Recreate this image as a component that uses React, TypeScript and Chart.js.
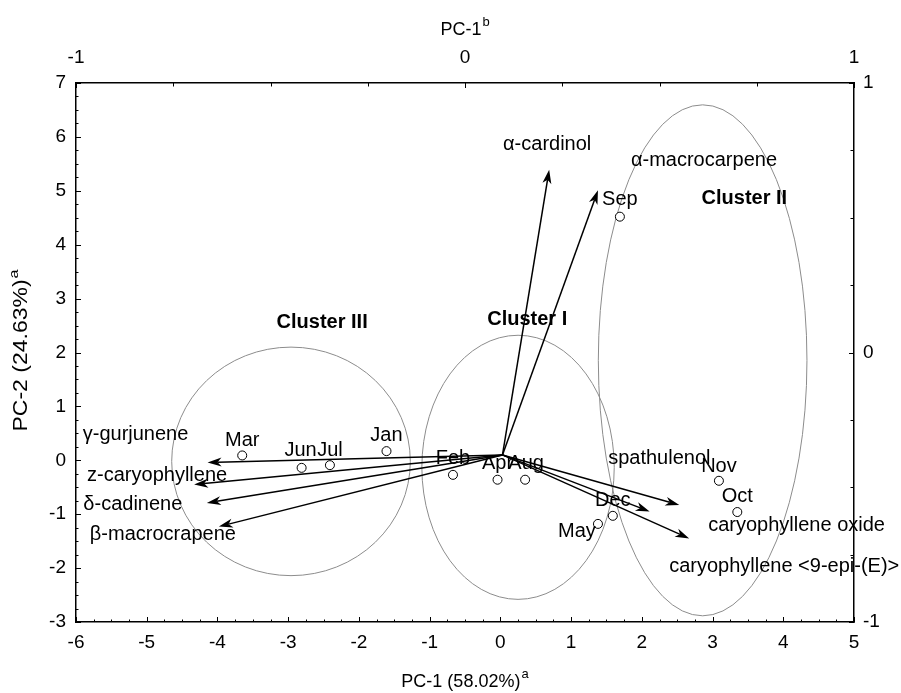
import React, { useEffect, useRef } from 'react';
import { Chart, registerables } from 'chart.js';

Chart.register(...registerables);

// ---------- data ----------
const months = ['Jan', 'Feb', 'Mar', 'Apr', 'May', 'Jun', 'Jul', 'Aug', 'Sep', 'Oct', 'Nov', 'Dec'];
const monthPC1 = [-1.61, -0.67, -3.65, -0.04, 1.38, -2.81, -2.41, 0.35, 1.69, 3.35, 3.09, 1.59];
const monthPC2 = [0.17, -0.27, 0.09, -0.36, -1.18, -0.14, -0.09, -0.36, 4.52, -0.96, -0.38, -1.03];

const compounds = [
  'γ-gurjunene',
  'z-caryophyllene',
  'δ-cadinene',
  'β-macrocrapene',
  'spathulenol',
  'caryophyllene oxide',
  'caryophyllene <9-epi-(E)>',
  'α-cardinol',
  'α-macrocarpene',
];
const arrowOriginPC1 = 0.03;
const arrowOriginPC2 = 0.1;
const compoundTipPC1 = [-4.14, -4.33, -4.15, -3.98, 2.53, 2.11, 2.67, 0.69, 1.38];
const compoundTipPC2 = [-0.04, -0.45, -0.79, -1.23, -0.83, -0.95, -1.45, 5.39, 5.01];

const clusterNames = ['Cluster I', 'Cluster II', 'Cluster III'];
const clusterCenterPC1 = [0.25, 2.86, -2.96];
const clusterCenterPC2 = [-0.13, 1.855, -0.02];
const clusterRadiusPC1 = [1.36, 1.475, 1.687];
const clusterRadiusPC2 = [2.45, 4.74, 2.12];
const clusterLabelPC1 = [0.38, 3.45, -2.52];
const clusterLabelPC2 = [2.62, 4.85, 2.55];

const bottomTicks = { min: -6, max: 5 };
const leftTicks = { min: -3, max: 7 };
const topTicks = { min: -1, max: 1 };
const rightTicks = { min: -1, max: 1 };

const bottomTitle = 'PC-1 (58.02%)';
const bottomTitleSup = 'a';
const leftTitle = 'PC-2 (24.63%)';
const leftTitleSup = 'a';
const topTitle = 'PC-1';
const topTitleSup = 'b';

// ---------- layout (pixel offsets of text labels) ----------
const monthLabelOffset: [number, number][] = [
  [0, -16], [0, -16], [0, -15], [0, -16], [-21, 8], [-1, -17],
  [0, -15], [1, -16], [0, -17], [0, -16], [0, -14], [0, -15],
];
const compoundLabelOffset: [number, number][] = [
  [-72, -28], [-37, -9], [-74, 2], [-56, 8], [-20, -47],
  [147, 14], [95, 28], [-2, -25], [106, -30],
];

const FONT = '"Liberation Sans", Arial, Helvetica, sans-serif';

function drawSupTitle(
  ctx: CanvasRenderingContext2D,
  main: string,
  sup: string,
  x: number,
  y: number,
  size: number,
  squeeze: number,
) {
  ctx.save();
  ctx.translate(x, y);
  ctx.scale(squeeze, 1);
  ctx.font = `${size}px ${FONT}`;
  const w1 = ctx.measureText(main).width;
  ctx.font = `${Math.round(size * 0.7)}px ${FONT}`;
  const w2 = ctx.measureText(sup).width;
  const start = -(w1 + w2 + 1) / 2;
  ctx.textAlign = 'left';
  ctx.textBaseline = 'middle';
  ctx.font = `${size}px ${FONT}`;
  ctx.fillText(main, start, 0);
  ctx.font = `${Math.round(size * 0.7)}px ${FONT}`;
  ctx.fillText(sup, start + w1 + 1, -size * 0.4);
  ctx.restore();
}

const overlayPlugin = {
  id: 'overlay',
  beforeDatasetsDraw(chart: any) {
    const { ctx, scales } = chart;
    const x = scales.x;
    const y = scales.y;
    ctx.save();
    // cluster ellipses
    ctx.strokeStyle = '#8c8c8c';
    ctx.lineWidth = 1;
    for (let i = 0; i < clusterNames.length; i++) {
      const cx = x.getPixelForValue(clusterCenterPC1[i]);
      const cy = y.getPixelForValue(clusterCenterPC2[i]);
      const rx = Math.abs(x.getPixelForValue(clusterCenterPC1[i] + clusterRadiusPC1[i]) - cx);
      const ry = Math.abs(y.getPixelForValue(clusterCenterPC2[i] + clusterRadiusPC2[i]) - cy);
      ctx.beginPath();
      ctx.ellipse(cx, cy, rx, ry, 0, 0, Math.PI * 2);
      ctx.stroke();
    }
    // arrows
    const ox = x.getPixelForValue(arrowOriginPC1);
    const oy = y.getPixelForValue(arrowOriginPC2);
    ctx.strokeStyle = '#000';
    ctx.fillStyle = '#000';
    ctx.lineWidth = 1.5;
    for (let i = 0; i < compounds.length; i++) {
      const tx = x.getPixelForValue(compoundTipPC1[i]);
      const ty = y.getPixelForValue(compoundTipPC2[i]);
      const dx = tx - ox;
      const dy = ty - oy;
      const len = Math.hypot(dx, dy);
      const ux = dx / len;
      const uy = dy / len;
      const nx = -uy;
      const ny = ux;
      const L = 14;
      const W = 4.5;
      const notch = 10;
      ctx.beginPath();
      ctx.moveTo(ox, oy);
      ctx.lineTo(tx - ux * notch, ty - uy * notch);
      ctx.stroke();
      ctx.beginPath();
      ctx.moveTo(tx, ty);
      ctx.lineTo(tx - ux * L + nx * W, ty - uy * L + ny * W);
      ctx.lineTo(tx - ux * notch, ty - uy * notch);
      ctx.lineTo(tx - ux * L - nx * W, ty - uy * L - ny * W);
      ctx.closePath();
      ctx.fill();
    }
    ctx.restore();
  },
  afterDraw(chart: any) {
    const { ctx, scales, chartArea } = chart;
    const x = scales.x;
    const y = scales.y;
    const x2 = scales.x2;
    const y2 = scales.y2;
    const { left, right, top, bottom } = chartArea;
    ctx.save();
    ctx.strokeStyle = '#000';
    ctx.lineWidth = 1;
    // inward tick marks
    ctx.beginPath();
    for (let v = bottomTicks.min; v <= bottomTicks.max + 1e-9; v += 0.25) {
      const p = Math.round(x.getPixelForValue(v)) + 0.5;
      const l = Math.abs(v - Math.round(v)) < 1e-6 ? 5 : 2.5;
      ctx.moveTo(p, bottom);
      ctx.lineTo(p, bottom - l);
    }
    for (let v = leftTicks.min; v <= leftTicks.max + 1e-9; v += 0.25) {
      const p = Math.round(y.getPixelForValue(v)) + 0.5;
      const l = Math.abs(v - Math.round(v)) < 1e-6 ? 5 : 2.5;
      ctx.moveTo(left, p);
      ctx.lineTo(left + l, p);
    }
    for (let v = topTicks.min; v <= topTicks.max + 1e-9; v += 0.25) {
      const p = Math.round(x2.getPixelForValue(v)) + 0.5;
      const l = Math.abs(v - Math.round(v)) < 1e-6 ? 5 : 3.5;
      ctx.moveTo(p, top);
      ctx.lineTo(p, top + l);
    }
    for (let v = rightTicks.min; v <= rightTicks.max + 1e-9; v += 0.25) {
      const p = Math.round(y2.getPixelForValue(v)) + 0.5;
      const l = Math.abs(v - Math.round(v)) < 1e-6 ? 5 : 3.5;
      ctx.moveTo(right, p);
      ctx.lineTo(right - l, p);
    }
    ctx.stroke();

    ctx.fillStyle = '#000';
    // axis titles
    drawSupTitle(ctx, bottomTitle, bottomTitleSup, (left + right) / 2, 682, 18, 1);
    drawSupTitle(ctx, topTitle, topTitleSup, (left + right) / 2, 30, 18, 1);
    ctx.save();
    ctx.translate(22, (top + bottom) / 2 - 2);
    ctx.rotate(-Math.PI / 2);
    ctx.scale(1, 0.85);
    drawSupTitle(ctx, leftTitle, leftTitleSup, 0, 0, 23, 1);
    ctx.restore();

    // month labels
    ctx.textAlign = 'center';
    ctx.textBaseline = 'middle';
    ctx.font = `20px ${FONT}`;
    for (let i = 0; i < months.length; i++) {
      const px = x.getPixelForValue(monthPC1[i]) + monthLabelOffset[i][0];
      const py = y.getPixelForValue(monthPC2[i]) + monthLabelOffset[i][1];
      ctx.fillText(months[i], px, py);
    }
    // compound labels
    for (let i = 0; i < compounds.length; i++) {
      const px = x.getPixelForValue(compoundTipPC1[i]) + compoundLabelOffset[i][0];
      const py = y.getPixelForValue(compoundTipPC2[i]) + compoundLabelOffset[i][1];
      ctx.fillText(compounds[i], px, py);
    }
    // cluster labels
    ctx.font = `bold 20px ${FONT}`;
    for (let i = 0; i < clusterNames.length; i++) {
      ctx.fillText(clusterNames[i], x.getPixelForValue(clusterLabelPC1[i]), y.getPixelForValue(clusterLabelPC2[i]));
    }
    ctx.restore();
  },
};

export default function App() {
  const canvasRef = useRef<HTMLCanvasElement | null>(null);

  useEffect(() => {
    const canvas = canvasRef.current;
    if (!canvas) return;
    const tickFont = { family: FONT, size: 19 };
    const chart = new Chart(canvas, {
      type: 'scatter',
      data: {
        datasets: [
          {
            label: 'Months',
            data: months.map((_, i) => ({ x: monthPC1[i], y: monthPC2[i] })),
            pointRadius: 4.5,
            pointHoverRadius: 4.5,
            pointBackgroundColor: '#fff',
            pointBorderColor: '#000',
            pointBorderWidth: 1,
            xAxisID: 'x',
            yAxisID: 'y',
          },
        ],
      },
      options: {
        responsive: false,
        animation: false,
        devicePixelRatio: 1,
        layout: { padding: 0 },
        plugins: {
          legend: { display: false },
          tooltip: { enabled: false },
          title: { display: false },
        },
        scales: {
          x: {
            type: 'linear',
            position: 'bottom',
            min: bottomTicks.min,
            max: bottomTicks.max,
            grid: { display: false, drawTicks: false },
            border: { display: true, color: '#000', width: 1.5 },
            ticks: { stepSize: 1, color: '#000', font: tickFont, padding: 9, maxRotation: 0 },
            afterFit: (s: any) => { s.height = 71; },
          },
          y: {
            type: 'linear',
            position: 'left',
            min: leftTicks.min,
            max: leftTicks.max,
            grid: { display: false, drawTicks: false },
            border: { display: true, color: '#000', width: 1.5 },
            ticks: { stepSize: 1, color: '#000', font: tickFont, padding: 10 },
            afterFit: (s: any) => { s.width = 76; },
          },
          x2: {
            type: 'linear',
            position: 'top',
            min: topTicks.min,
            max: topTicks.max,
            grid: { display: false, drawTicks: false },
            border: { display: true, color: '#000', width: 1.5 },
            ticks: { stepSize: 1, color: '#000', font: tickFont, padding: 14, maxRotation: 0 },
            afterFit: (s: any) => { s.height = 83; },
          },
          y2: {
            type: 'linear',
            position: 'right',
            min: rightTicks.min,
            max: rightTicks.max,
            grid: { display: false, drawTicks: false },
            border: { display: true, color: '#000', width: 1.5 },
            ticks: { stepSize: 1, color: '#000', font: tickFont, padding: 9 },
            afterFit: (s: any) => { s.width = 47; },
          },
        },
      },
      plugins: [overlayPlugin],
    });
    return () => chart.destroy();
  }, []);

  return (
    <div style={{ position: 'absolute', left: 0, top: 0, width: 901, height: 693, background: '#fff' }}>
      <canvas ref={canvasRef} width={901} height={693} style={{ display: 'block' }} />
    </div>
  );
}
